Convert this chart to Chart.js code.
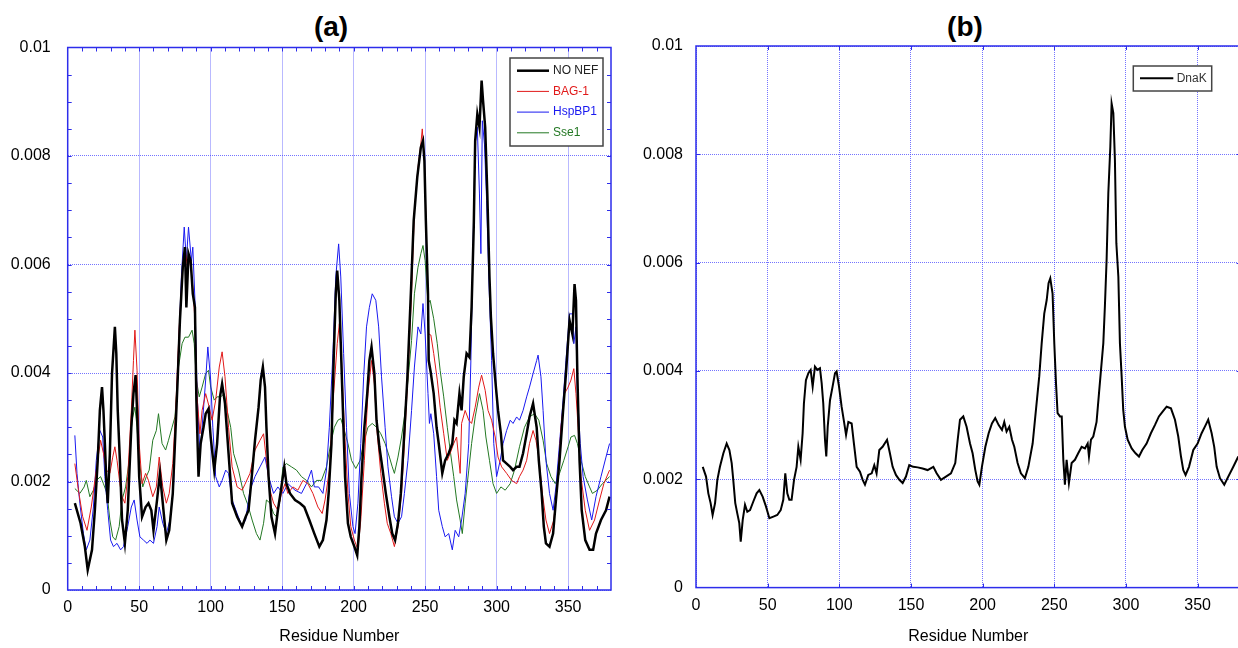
<!DOCTYPE html>
<html>
<head>
<meta charset="utf-8">
<script src="https://cdn.jsdelivr.net/npm/chart.js@4.4.1/dist/chart.umd.min.js"></script>
<style>
  html, body { margin: 0; padding: 0; overflow: hidden; background: #fff; width: 1238px; height: 648px; }
  .panel { position: absolute; top: 0; height: 648px; }
  #wrapA { left: 0; width: 640px; }
  #wrapB { left: 628px; width: 614px; }
  .ttl { position: absolute; top: 11px; line-height: 34px; font: bold 28px "Liberation Sans", Arial, sans-serif; text-align: center; color: #000; }
</style>
</head>
<body>
<div class="ttl" style="left:0;width:662px">(a)</div>
<div class="ttl" style="left:900px;width:130px">(b)</div>
<div class="panel" id="wrapA"><canvas id="chartA"></canvas></div>
<div class="panel" id="wrapB"><canvas id="chartB"></canvas></div>
<script>
// values are in units of 1e-3
const SCALE = 1e-3;

// panel (a)
const noNefRes = [5,9,12,14,17,19,21,22.5,24,25,26,27,28,29.5,31,33,34,35,36.5,38,40,42,44.5,46,47.5,48.5,50,52,54.5,56.5,58.5,60,62.5,64.5,66.5,69,71,73.5,75,77,78.5,80.5,82,83,84.5,86,87.5,89,90,91.5,93,95,96.5,98.5,100,102.5,104.5,106.5,108,110,112.5,115,118.5,122,124.5,126.5,128.5,131,133.5,135,136.5,138,139,140.5,142.5,145,147,149.5,151.5,153,155.5,159,162.5,165.5,169,172.5,176,178.5,181,182.5,184.5,186,187.5,188.5,190,191,192.5,194,196,198,200.5,202.5,204,205.5,207.5,209.5,211,212.5,214.5,216,218,220,222.5,225,227,229,231,233,235,237.5,240,242,244.5,247,248.5,249.5,250.5,252,252.5,254,256,258,259.5,262,264,266.5,269,270.5,272,274,275.5,277,279,281,282.5,284,285,286.5,288,289.5,290.5,292,293.5,295,296,297.5,299.5,301,303,304.5,307,309.5,311.5,314,316,318.5,321,323,325.5,328,329.5,331.5,333,334.5,337,339.5,341.5,344,346.5,348.5,351,353,354.5,355.5,356.5,358,359.5,362,365,367.5,369.5,373,376.5,379];
const noNefVal = [1.60,1.23,0.80,0.37,0.74,1.47,2.39,3.31,3.74,3.31,2.70,2.02,1.60,2.52,3.99,4.85,4.36,3.31,2.39,1.29,0.86,1.47,3.00,3.62,3.96,3.31,2.09,1.35,1.53,1.60,1.47,1.10,1.66,2.15,1.60,0.92,1.10,1.78,2.70,3.93,4.97,5.95,6.32,5.21,6.20,6.07,5.46,5.21,3.50,2.09,2.70,3.00,3.25,3.34,2.82,2.21,2.70,3.56,3.80,3.44,2.52,1.60,1.35,1.17,1.35,1.47,2.02,2.76,3.37,3.87,4.11,3.74,3.00,2.09,1.35,1.04,1.47,1.90,2.27,1.96,1.78,1.66,1.60,1.53,1.29,1.04,0.80,0.92,1.29,1.78,2.70,4.23,5.46,5.89,5.34,4.54,3.31,2.09,1.23,0.98,0.80,0.64,1.17,2.09,3.00,3.62,4.23,4.48,3.99,3.13,2.64,2.27,1.78,1.35,1.04,0.92,1.23,1.78,2.70,3.87,5.46,6.81,7.61,8.16,8.28,7.91,6.81,5.46,4.23,4.00,3.62,3.00,2.70,2.15,2.39,2.52,2.70,3.13,3.07,3.62,3.31,3.93,4.36,4.29,5.21,6.69,8.28,8.77,8.53,9.39,9.02,8.53,7.30,5.77,5.03,4.36,3.74,3.31,2.88,2.39,2.33,2.27,2.21,2.27,2.27,2.52,2.88,3.19,3.44,3.00,2.39,1.78,1.17,0.86,0.80,1.04,1.66,2.39,3.31,3.99,4.97,4.72,5.64,5.34,3.93,2.39,1.47,0.92,0.74,0.74,1.04,1.29,1.47,1.72];

const bag1Res = [5,7.5,10.5,13.5,16.5,20,23,25,27,29.5,31.5,33,34.5,36.5,38,40,42,44.5,46,47,48.5,50,52,54.5,56.5,59.5,62,64,66.5,69,71,73.5,75.5,78,80.5,82,84,85.5,87.5,89,90.5,92.5,94,96.5,99,101,103.5,106,108,110,112.5,115,118.5,122,124,127.5,131,134.5,137,139,141.5,144,147,149.5,152,154,157.5,161,164.5,168,171.5,175,178,180,183,186,188.5,190,191.5,193.5,196,198,200.5,203,205,207.5,210,212.5,214.5,216.5,219,221.5,223.5,226,228.5,231,233.5,235.5,238,240.5,242.5,245,247,248,249.5,251,252.5,254,256,258.5,260.5,263,265.5,267.5,270,272,274.5,275.5,278,280.5,282.5,285,287.5,289.5,292,294,296.5,299,301,303.5,307,310.5,314,316,318.5,321,323,325.5,327.5,329.5,332,334.5,337,340,343,345,347.5,350,352,354,355.5,357,359,362,365,368.5,372,375,379];
const bag1Val = [2.33,1.84,1.35,1.10,1.53,2.21,2.76,2.52,2.21,2.15,2.45,2.64,2.39,1.96,1.72,1.60,2.09,3.31,4.23,4.79,4.05,2.70,1.96,2.15,2.02,1.72,1.90,2.45,1.90,1.60,1.78,2.33,3.31,4.85,5.95,6.32,5.89,6.13,5.58,4.97,3.56,2.88,3.31,3.62,3.37,3.13,3.50,4.11,4.39,3.93,3.00,2.27,1.90,1.84,1.95,2.15,2.58,2.76,2.88,2.39,1.84,1.60,1.47,1.78,1.96,1.78,1.90,1.84,2.02,1.96,1.78,1.53,1.41,1.66,2.21,3.62,4.54,4.91,4.23,3.00,1.78,1.17,0.92,0.74,1.29,2.39,3.62,4.23,3.80,2.88,2.15,1.60,1.23,1.04,0.80,1.17,1.78,2.70,3.99,5.46,6.99,7.79,8.22,8.50,7.91,6.38,4.72,4.70,4.36,3.87,3.37,2.88,2.39,2.52,2.70,2.82,2.15,3.07,3.31,3.13,3.07,3.37,3.74,3.96,3.68,3.31,3.13,2.82,2.45,2.27,2.15,2.02,1.96,2.09,2.21,2.39,2.70,2.94,2.76,2.45,1.78,1.29,1.04,1.29,2.09,3.00,3.62,3.74,3.87,4.08,3.62,3.00,2.09,1.47,1.10,1.29,1.66,1.96,2.21];

const hspRes = [5,6.5,8.5,11,13,15.5,18,20,22.5,24.5,26,28,30,32,34.5,37,39,42,44.5,46.5,48.5,50.5,53,55.5,57.5,60,62.5,64,66.5,69,71.5,74,75.5,77.5,79.5,81.5,83,84.5,86.5,87.5,89,90.5,92.5,94,96.5,98,100,101.5,103.5,106,108,110.5,112.5,115,118.5,122,124.5,127.5,131,134.5,138,140.5,144,147,150.5,154,159,163.5,167,170.5,172.5,175.5,178.5,181,183,185.5,187.5,189.5,191,193,195,197,199.5,201,203,205,207,209,211,213,215.5,217.5,219.5,222,224,226.5,228.5,231,233.5,235.5,238,240.5,242.5,245,247,248.5,250,252,253,254,256,258,259.5,262,264,266.5,269,271,273.5,275.5,278,280.5,282,283.5,285,286.5,288,289,290,291.5,293,294.5,296.5,298,300,302.5,304.5,307,309.5,311.5,314,316,318.5,321,323,325.5,328,329,331,332.5,334.5,337,339.5,341.5,344,346.5,348.5,351,353,354,355.5,356.5,358.5,360.5,363.5,366.5,369.5,373,376.5,379];
const hspVal = [2.85,2.15,1.60,1.04,0.74,0.92,1.53,2.39,2.94,2.82,2.09,1.47,0.92,0.80,0.86,0.74,0.80,1.17,1.53,1.66,1.29,0.98,0.92,0.86,0.92,0.86,1.17,1.53,1.23,1.04,1.29,1.90,3.13,4.42,5.77,6.69,6.07,6.69,6.07,6.32,5.34,3.62,2.52,3.00,3.87,4.48,3.87,3.00,2.09,1.90,2.02,2.21,2.15,1.66,1.41,1.17,1.30,1.84,2.09,2.27,2.45,2.09,1.78,1.90,1.78,1.96,1.84,1.78,1.96,2.21,1.90,1.90,1.78,2.21,3.00,4.36,5.77,6.38,5.77,4.36,3.00,1.78,1.17,1.04,1.60,2.70,3.93,4.85,5.21,5.46,5.34,4.85,3.93,3.00,2.27,1.72,1.35,1.23,1.35,1.78,2.39,3.31,4.11,4.85,4.72,5.28,4.72,3.62,3.07,3.25,2.88,2.09,1.47,1.17,0.98,1.04,0.74,1.10,0.98,1.29,1.78,2.70,4.23,6.38,8.22,8.53,7.30,6.20,8.65,8.22,7.18,5.77,4.23,2.70,2.09,2.39,2.70,2.94,3.13,3.07,3.19,3.13,3.31,3.56,3.74,3.99,4.23,4.33,3.93,3.31,2.39,1.78,1.47,1.90,2.70,3.50,4.23,5.09,5.09,4.54,4.85,3.62,2.70,2.09,1.66,1.29,1.72,2.09,2.45,2.70];

const sse1Res = [5,8.5,11.5,13,15.5,18,20,23,25,27.5,29.5,31.5,33.5,36,38,40.5,43,45,47,48.5,50,52.5,55,57,59.5,62,63.5,66,68.5,70.5,73,75,77.5,80,82,84.5,87,88.5,90,92,94,96.5,98.5,100,102.5,104.5,107,109.5,111.5,114,116,119.5,123,126,129,132,134.5,137,139,141.5,144,146,148.5,150.5,153,156.5,160,163.5,167,170.5,174,177.5,181,184,186.5,189,191,193.5,196,198.5,201.5,204.5,207.5,210,213,216,219,222,225,227,228.5,231,233.5,235.5,238,240.5,242.5,245,247,248.5,250,252,253.5,256,258.5,260.5,263,265.5,267.5,270,272,274.5,276,278,280.5,282.5,285,288,290.5,292.5,295,297.5,300,303,306,309.5,312.5,316,319.5,323,326.5,329.5,332.5,335,338,341,344,347,350,352,354.5,356.5,359,362,365,367,370.5,374,379];
const sse1Val = [1.87,1.78,1.90,2.02,1.72,1.84,2.02,2.09,1.96,1.78,1.29,0.98,0.92,1.17,1.66,1.90,2.39,3.13,3.37,3.00,2.39,1.90,2.09,2.21,2.76,2.94,3.25,2.70,2.58,2.76,3.00,3.19,4.11,4.54,4.66,4.66,4.79,4.54,3.87,3.56,3.74,3.99,4.05,3.74,3.50,3.56,3.56,3.62,3.31,3.00,2.52,2.21,1.78,1.57,1.29,1.04,0.92,1.23,1.66,1.60,1.41,1.35,1.66,2.27,2.33,2.27,2.21,2.09,2.02,1.90,2.02,2.02,2.27,2.70,3.00,3.13,3.16,2.94,2.70,2.39,2.24,2.39,2.76,3.00,3.07,3.00,2.88,2.70,2.45,2.27,2.15,2.45,2.82,3.19,3.87,4.60,5.46,5.95,6.20,6.35,6.07,5.28,5.34,5.00,4.54,4.05,3.56,3.00,2.58,2.09,1.66,1.29,1.04,1.60,2.21,2.70,3.19,3.62,3.31,2.82,2.39,1.96,1.78,1.90,1.84,1.96,2.21,2.64,3.00,3.19,3.25,3.13,2.76,2.33,2.09,1.96,2.15,2.39,2.64,2.82,2.85,2.70,2.39,2.09,1.90,1.78,1.84,1.96,2.09];

// panel (b)
const dnakRes = [4.7,7,8.6,10.2,11.6,13.3,14.9,16.7,19.1,21.4,23.3,24.9,26,27.4,28.8,30.2,31.2,32.6,34.2,35.8,37.7,40,42.3,44.2,46.5,48.8,51.2,54,56.7,59.1,60.9,62.3,63.7,65.1,66.7,68.4,70.2,71.4,73,74.4,75.3,76.7,78.4,80,81.4,83,84.7,86.5,87.7,88.8,90,90.9,91.9,93.5,95.3,97,98.1,99.8,101.6,103.3,104.7,106.3,108.6,110.2,112.1,114.4,116.3,117.9,120.2,122.6,124.4,126,127.9,130.2,133.3,135.3,137.2,139.5,141.9,144.2,146.5,148.8,151.6,154.7,158.1,161.6,165.6,167.9,170.9,174.4,177.9,180.9,182.6,184.2,186.5,188.8,191.2,193,194.9,196.5,197.7,199.5,201.9,204.2,206.5,208.8,211.2,213.5,215.1,216.7,218.6,220.5,222.1,224.4,226.7,229.5,231.9,234.9,237.2,239.5,241.2,243,244.7,246,247.2,248.8,250,251.2,252.3,254,255.2,256.3,257.4,258.6,260.2,262.1,264.4,266.7,269.1,271.4,273.3,274.2,275.6,277.2,279.5,281.2,282.6,284.2,285.3,286.5,287.7,289.1,290,291.2,292.3,293.3,294.7,295.8,297,298.1,299.3,301.2,304,306.7,309.1,311.4,314.4,317.4,320.2,323,325.6,328.4,331.4,334.2,336.5,338.4,340,341.6,344,347,350,352.8,355.6,357.4,359.8,361.6,363.3,365.6,368.6,371.4,374.9,378.4];
const dnakVal = [2.23,2.05,1.74,1.56,1.34,1.56,1.99,2.23,2.48,2.66,2.54,2.30,1.99,1.56,1.37,1.19,0.85,1.25,1.53,1.40,1.43,1.59,1.74,1.80,1.68,1.50,1.28,1.31,1.34,1.43,1.62,2.11,1.74,1.62,1.62,1.99,2.23,2.60,2.36,2.85,3.40,3.83,3.96,4.02,3.71,4.08,4.02,4.05,3.77,3.40,2.73,2.42,2.97,3.46,3.71,3.96,3.99,3.71,3.34,3.06,2.82,3.06,3.03,2.66,2.23,2.14,1.99,1.90,2.08,2.11,2.26,2.11,2.54,2.60,2.73,2.48,2.23,2.08,1.99,1.93,2.05,2.26,2.23,2.22,2.20,2.17,2.23,2.11,1.99,2.05,2.11,2.30,2.73,3.10,3.16,2.97,2.66,2.48,2.17,1.96,1.90,2.23,2.60,2.85,3.03,3.13,3.00,2.91,3.06,2.88,2.97,2.73,2.60,2.30,2.11,2.02,2.23,2.66,3.28,3.90,4.51,5.06,5.31,5.62,5.71,5.43,4.51,3.77,3.22,3.16,3.16,2.36,1.90,2.36,1.93,2.30,2.36,2.48,2.60,2.57,2.66,2.42,2.73,2.79,3.06,3.59,4.02,4.51,5.19,6.05,7.28,8.14,8.94,8.76,7.90,6.36,5.74,4.51,3.90,3.28,2.97,2.73,2.57,2.48,2.42,2.54,2.66,2.85,3.00,3.16,3.25,3.34,3.31,3.10,2.79,2.42,2.17,2.08,2.23,2.54,2.66,2.85,3.00,3.10,2.85,2.60,2.23,2.02,1.90,2.05,2.23,2.42];

const xTicks = { min: 0, max: 380, step: 50 };
const yTicks = { min: 0, max: 0.01, step: 0.002 };

Chart.defaults.font.family = '"Liberation Sans", Arial, sans-serif';
Chart.defaults.color = '#000';

function pts(res, vals) {
  return res.map(function (r, i) { return { x: r, y: vals[i] * SCALE }; });
}

const AXIS_BLUE = 'rgb(45,45,235)';
const GRID_BLUE = 'rgba(70,70,255,0.75)';

// box around the plot plus short inward ticks
const framePlugin = {
  id: 'frame',
  afterDatasetsDraw(chart, args, o) {
    const ctx = chart.ctx, a = chart.chartArea, sx = chart.scales.x, sy = chart.scales.y;
    ctx.save();
    ctx.strokeStyle = AXIS_BLUE;
    ctx.lineWidth = 1;
    ctx.beginPath();
    for (let i = 1; i * o.xStep < sx.max; i++) {
      const px = Math.round(sx.getPixelForValue(i * o.xStep)) + 0.5;
      ctx.moveTo(px, a.top); ctx.lineTo(px, a.top + 4);
      ctx.moveTo(px, a.bottom); ctx.lineTo(px, a.bottom - 4);
    }
    for (let i = 1; i * o.yStep < sy.max - 1e-9; i++) {
      const py = Math.round(sy.getPixelForValue(i * o.yStep)) + 0.5;
      ctx.moveTo(a.left, py); ctx.lineTo(a.left + 4, py);
      ctx.moveTo(a.right, py); ctx.lineTo(a.right - 4, py);
    }
    ctx.stroke();
    ctx.lineWidth = 1.5;
    ctx.strokeRect(a.left, a.top, a.right - a.left, a.bottom - a.top);
    ctx.restore();
  }
};

// boxed legend inside the plot
const boxLegend = {
  id: 'boxLegend',
  afterDraw(chart, args, o) {
    const ctx = chart.ctx;
    ctx.save();
    ctx.fillStyle = '#fff';
    ctx.fillRect(o.x, o.y, o.w, o.h);
    ctx.strokeStyle = '#444';
    ctx.lineWidth = 1.5;
    ctx.strokeRect(o.x, o.y, o.w, o.h);
    ctx.font = '12px "Liberation Sans", Arial, sans-serif';
    ctx.textBaseline = 'middle';
    chart.data.datasets.forEach(function (ds, i) {
      const y = o.y + o.first + i * o.step;
      ctx.strokeStyle = ds.borderColor;
      ctx.lineWidth = ds.borderWidth;
      ctx.beginPath();
      ctx.moveTo(o.x + o.l0, y);
      ctx.lineTo(o.x + o.l1, y);
      ctx.stroke();
      ctx.fillStyle = ds.textColor || ds.borderColor;
      ctx.fillText(ds.label, o.x + o.tx, y);
    });
    ctx.restore();
  }
};

function makeOptions(p) {
  return {
    responsive: true,
    maintainAspectRatio: false,
    animation: false,
    layout: { padding: { top: p.top, right: p.right, bottom: 0, left: 0 } },
    elements: { point: { radius: 0 }, line: { tension: 0 } },
    plugins: {
      legend: { display: false },
      tooltip: { enabled: false },
      frame: { xStep: p.minorX, yStep: p.minorY },
      boxLegend: p.legend
    },
    scales: {
      x: {
        type: 'linear',
        min: xTicks.min,
        max: xTicks.max,
        afterFit: function (s) { s.height = p.xHeight; },
        ticks: { stepSize: xTicks.step, includeBounds: false, padding: 8, font: { size: 16 } },
        grid: { color: GRID_BLUE, lineWidth: 1, drawTicks: false },
        border: { display: false, dash: [1, 1] },
        title: { display: true, text: 'Residue Number', font: { size: 16 }, padding: { top: 0, bottom: 2 } }
      },
      y: {
        min: yTicks.min,
        max: yTicks.max,
        afterFit: function (s) { s.width = p.yWidth; },
        ticks: {
          stepSize: yTicks.step,
          padding: p.yPad,
          font: { size: 16 },
          callback: function (v) { return String(+v.toFixed(4)); }
        },
        grid: { color: GRID_BLUE, lineWidth: 1, drawTicks: false },
        border: { display: false, dash: [1, 1] }
      }
    }
  };
}

new Chart(document.getElementById('chartA'), {
  type: 'line',
  data: {
    datasets: [
      { label: 'NO NEF', data: pts(noNefRes, noNefVal), borderColor: '#000', borderWidth: 2.5, textColor: '#222' },
      { label: 'BAG-1', data: pts(bag1Res, bag1Val), borderColor: 'rgb(225,25,25)', borderWidth: 1 },
      { label: 'HspBP1', data: pts(hspRes, hspVal), borderColor: 'rgb(25,25,240)', borderWidth: 1 },
      { label: 'Sse1', data: pts(sse1Res, sse1Val), borderColor: 'rgb(35,120,35)', borderWidth: 1 }
    ]
  },
  options: makeOptions({
    top: 47.5, right: 29, xHeight: 58, yWidth: 67.7, yPad: 17,
    minorX: 10, minorY: 0.0005,
    legend: { x: 510, y: 58, w: 93, h: 88, first: 12.7, step: 20.7, l0: 7, l1: 39, tx: 43 }
  }),
  plugins: [framePlugin, boxLegend]
});

new Chart(document.getElementById('chartB'), {
  type: 'line',
  data: {
    datasets: [
      { label: 'DnaK', data: pts(dnakRes, dnakVal), borderColor: '#000', borderWidth: 2, textColor: '#333' }
    ]
  },
  options: makeOptions({
    top: 46, right: 1.4, xHeight: 60.4, yWidth: 68, yPad: 13,
    minorX: 50, minorY: 0.002,
    legend: { x: 505.3, y: 66, w: 78.4, h: 25, first: 12.3, step: 20, l0: 6.7, l1: 40, tx: 43.4 }
  }),
  plugins: [framePlugin, boxLegend]
});
</script>
</body>
</html>
